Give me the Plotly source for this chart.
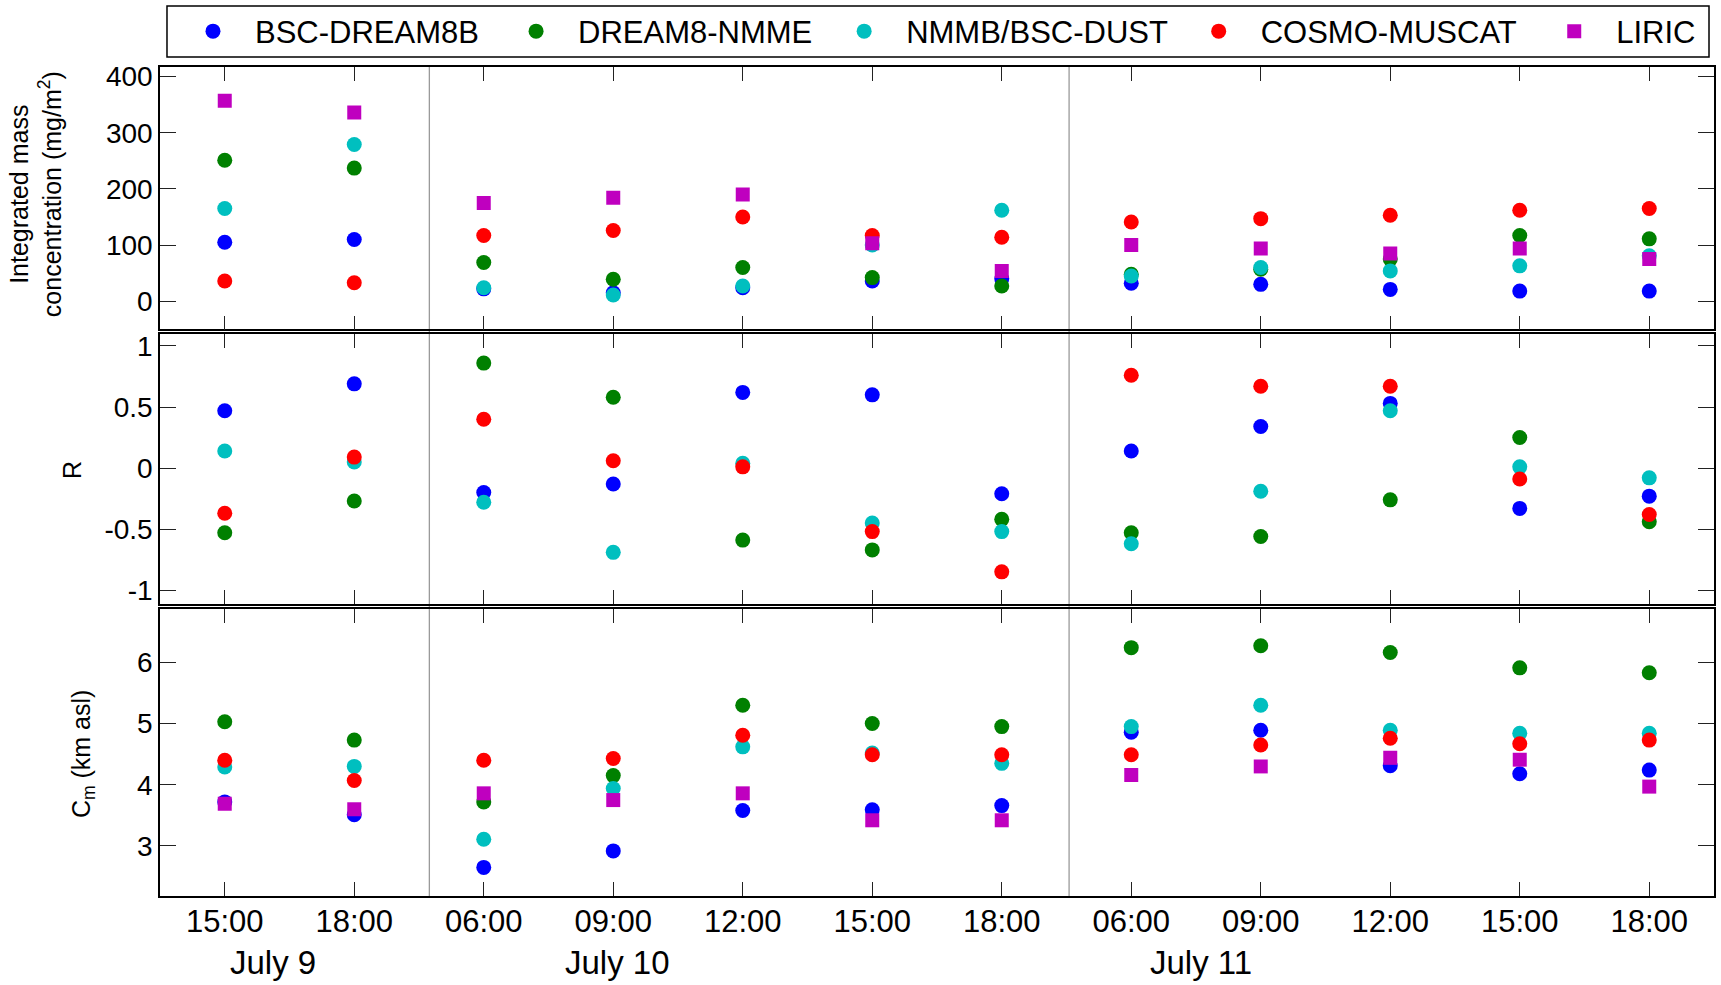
import plotly.graph_objects as go

# ---------------- data ----------------
times = ["15:00", "18:00", "06:00", "09:00", "12:00", "15:00", "18:00",
         "06:00", "09:00", "12:00", "15:00", "18:00"]
days = ["July 9", "July 10", "July 11"]
day_centers = [0.375, 3.03, 7.54]          # x position (category index) of day labels
day_breaks = [1.58, 6.52]                  # separators between days
models = ["BSC-DREAM8B", "DREAM8-NMME", "NMMB/BSC-DUST", "COSMO-MUSCAT", "LIRIC"]
colors = ["#0000FF", "#008000", "#00BFBF", "#FF0000", "#BF00BF"]

mass_bsc = [105, 110, 22, 15, 24, 36, 40, 32, 30, 21, 18, 18]
mass_nmme = [251, 237, 69, 39, 60, 42, 27, 48, 57, 75, 117, 111]
mass_nmmb = [165, 279, 24, 11, 27, 100, 162, 45, 60, 54, 63, 81]
mass_cosmo = [36, 33, 117, 126, 150, 117, 114, 141, 147, 153, 162, 165]
mass_liric = [357, 336, 175, 184, 190, 103, 54, 100, 94, 85, 94, 75]

r_bsc = [0.47, 0.69, -0.20, -0.13, 0.62, 0.60, -0.21, 0.14, 0.34, 0.53, -0.33, -0.23]
r_nmme = [-0.53, -0.27, 0.86, 0.58, -0.59, -0.67, -0.42, -0.53, -0.56, -0.26, 0.25, -0.44]
r_nmmb = [0.14, 0.05, -0.28, -0.69, 0.04, -0.45, -0.52, -0.62, -0.19, 0.47, 0.01, -0.08]
r_cosmo = [-0.37, 0.09, 0.40, 0.06, 0.01, -0.52, -0.85, 0.76, 0.67, 0.67, -0.09, -0.38]

cm_bsc = [3.72, 3.51, 2.65, 2.92, 3.58, 3.59, 3.66, 4.86, 4.89, 4.31, 4.18, 4.24]
cm_nmme = [5.03, 4.73, 3.72, 4.15, 5.30, 5.00, 4.95, 6.24, 6.27, 6.16, 5.91, 5.83]
cm_nmmb = [4.29, 4.30, 3.11, 3.94, 4.62, 4.52, 4.35, 4.95, 5.30, 4.89, 4.84, 4.84]
cm_cosmo = [4.40, 4.07, 4.40, 4.43, 4.81, 4.49, 4.49, 4.49, 4.65, 4.76, 4.67, 4.73]
cm_liric = [3.69, 3.60, 3.86, 3.75, 3.86, 3.42, 3.42, 4.16, 4.30, 4.44, 4.41, 3.97]

y1_ticks = [0, 100, 200, 300, 400]
y2_ticks = [-1, -0.5, 0, 0.5, 1]
y2_text = ["-1", "-0.5", "0", "0.5", "1"]
y3_ticks = [3, 4, 5, 6]

# ---------------- layout geometry ----------------
W, H = 1721, 985
L, R, T, B = 160, 5, 67, 89
PW, PH = W - L - R, H - T - B


def px2x(px):
    return (px - L) / PW


def py2y(py):
    return (H - B - py) / PH


FONT = "Liberation Sans, Arial, sans-serif"
xs = list(range(len(times)))

fig = go.Figure()

panels = [
    ("y", [mass_bsc, mass_nmme, mass_nmmb, mass_cosmo, mass_liric]),
    ("y2", [r_bsc, r_nmme, r_nmmb, r_cosmo, None]),
    ("y3", [cm_bsc, cm_nmme, cm_nmmb, cm_cosmo, cm_liric]),
]
xref_for = {"y": "x", "y2": "x2", "y3": "x3"}

for pi, (yax, series) in enumerate(panels):
    for mi, vals in enumerate(series):
        if vals is None:
            continue
        sym = "square" if mi == 4 else "circle"
        size = 14 if mi == 4 else 15
        fig.add_trace(go.Scatter(
            x=xs, y=vals, mode="markers", name=models[mi],
            xaxis=xref_for[yax], yaxis=yax,
            marker=dict(symbol=sym, size=size, color=colors[mi], line=dict(width=0)),
            showlegend=(pi == 0),
            legend=("legend" if mi == 0 else "legend%d" % (mi + 1)),
        ))

axis_common = dict(showline=True, linecolor="black", linewidth=1.5, mirror="ticks",
                   ticks="inside", tickcolor="#222222", tickwidth=1.2,
                   showgrid=False, zeroline=False)
ytick_font = dict(family=FONT, size=28, color="black")

xcommon = dict(axis_common, range=[-0.5, 11.5], tickvals=xs, ticklen=14)
fig.update_layout(
    xaxis=dict(xcommon, anchor="y", showticklabels=False),
    xaxis2=dict(xcommon, anchor="y2", showticklabels=False),
    xaxis3=dict(xcommon, anchor="y3", ticktext=times, ticklabelstandoff=-3,
                tickfont=dict(family=FONT, size=31, color="black")),
    yaxis=dict(axis_common, domain=[0.6836, 1.0], range=[-50, 417], tickvals=y1_ticks,
               ticklen=16, tickfont=ytick_font, anchor="x"),
    yaxis2=dict(axis_common, domain=[0.3527, 0.6776], range=[-1.11, 1.096],
                tickvals=y2_ticks, ticktext=y2_text, ticklen=16,
                tickfont=ytick_font, anchor="x2"),
    yaxis3=dict(axis_common, domain=[0.0, 0.3458], range=[2.183, 6.866], tickvals=y3_ticks,
                ticklen=16, tickfont=ytick_font, anchor="x3"),
)

# day separators
shapes = []
for xb in day_breaks:
    shapes.append(dict(type="line", xref="x", yref="paper", x0=xb, x1=xb, y0=0, y1=1,
                       line=dict(color="#9A9A9A", width=1.3), layer="below"))
# legend box
shapes.append(dict(type="rect", xref="paper", yref="paper",
                   x0=px2x(167), x1=px2x(1711), y0=py2y(57), y1=py2y(6),
                   line=dict(color="black", width=1.5), fillcolor="rgba(0,0,0,0)"))

annotations = []
for d, xc in zip(days, day_centers):
    annotations.append(dict(text=d, x=xc, xref="x3", y=py2y(962), yref="paper",
                            xanchor="center", yanchor="middle", showarrow=False,
                            font=dict(family=FONT, size=33, color="black")))
# axis titles
titles = [("Integrated mass<br>concentration (mg/m<sup>2</sup>)", 36, 194),
          ("R", 72, 470),
          ("C<sub>m</sub> (km asl)", 83, 754)]
for txt, xp, yp in titles:
    annotations.append(dict(text=txt, x=px2x(xp), xref="paper", y=py2y(yp), yref="paper",
                            xanchor="center", yanchor="middle", showarrow=False,
                            textangle=-90, font=dict(family=FONT, size=25, color="black")))

# legends (one per entry, placed inside the drawn box)
marker_px = [213, 536.5, 865, 1220, 1576]
leg_font = dict(family=FONT, size=31, color="black")
for i, mp in enumerate(marker_px):
    key = "legend" if i == 0 else "legend%d" % (i + 1)
    fig.update_layout(**{key: dict(x=px2x(mp - 42), xanchor="left", y=py2y(31.5),
                                   yanchor="middle", orientation="h", itemwidth=74,
                                   font=leg_font, bgcolor="rgba(0,0,0,0)", borderwidth=0)})

fig.update_layout(
    width=W, height=H, margin=dict(l=L, r=R, t=T, b=B, pad=0),
    paper_bgcolor="white", plot_bgcolor="white",
    shapes=shapes, annotations=annotations,
    font=dict(family=FONT, color="black"),
)

fig.write_html("out.html")
